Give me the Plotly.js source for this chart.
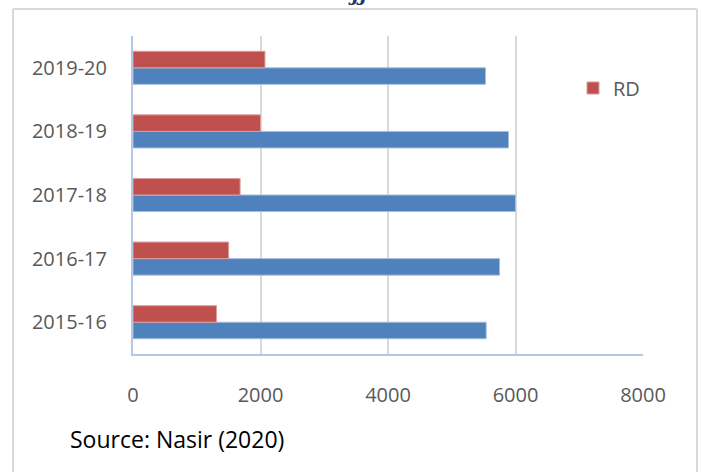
<!DOCTYPE html>
<html>
<head>
<meta charset="utf-8">
<script src="https://cdn.plot.ly/plotly-3.0.1.min.js"></script>
<style>html,body{margin:0;padding:0;background:#fff;}#chart{width:702px;height:472px;}</style>
</head>
<body>
<div id="chart"></div>
<script>
var categories = ["2015-16", "2016-17", "2017-18", "2018-19", "2019-20"];
var seriesBlue = [5540, 5750, 6000, 5890, 5530];
var seriesRD = [1310, 1500, 1680, 2000, 2070];
var xTicks = [0, 2000, 4000, 6000, 8000];
var sourceText = "Source: Nasir (2020)";

var W = 702, H = 472;
var L = 133, R = 59, T = 36, B = 118;
var pw = W - L - R, ph = H - T - B;
function px(x){ return (x - L) / pw; }
function py(y){ return (H - B - y) / ph; }

var traces = [
  {type:'bar', orientation:'h', y:categories, x:seriesBlue, name:'Series 1', showlegend:false,
   marker:{color:'#4f81bd', line:{color:'#a7bfde', width:1}}},
  {type:'bar', orientation:'h', y:categories, x:seriesRD, name:'RD',
   marker:{color:'#c0504d', line:{color:'#dc9e9c', width:1}}}
];

var frame = '#d9d9d9';
var layout = {
  width:W, height:H,
  margin:{l:L, r:R, t:T, b:B, pad:0},
  paper_bgcolor:'#fff', plot_bgcolor:'#fff',
  barmode:'group', bargap:0.48, bargroupgap:0,
  font:{family:'Open Sans, sans-serif', color:'#595959', size:20},
  xaxis:{range:[0,8000], tickvals:xTicks, ticktext:xTicks.map(String),
         showgrid:true, gridcolor:'#d9d9d9', gridwidth:2, zeroline:false,
         showline:true, linecolor:'#b4c7e7', linewidth:2,
         ticks:'', ticklabelstandoff:22, tickfont:{size:20, color:'#595959'}},
  yaxis:{type:'category', categoryorder:'array', categoryarray:categories,
         showgrid:false, zeroline:false, showline:true, linecolor:'#b4c7e7', linewidth:2,
         ticks:'', ticklabelstandoff:20, tickfont:{size:20, color:'#595959'}},
  showlegend:true,
  legend:{x:px(573), y:py(88), xanchor:'left', yanchor:'middle',
          bgcolor:'rgba(0,0,0,0)', font:{size:20, color:'#595959'},
          itemwidth:30, tracegroupgap:0},
  shapes:[
    {type:'line', xref:'paper', yref:'paper', x0:px(13), x1:px(697), y0:py(9), y1:py(9), line:{color:frame, width:2}},
    {type:'line', xref:'paper', yref:'paper', x0:px(13), x1:px(13), y0:py(9), y1:py(480), line:{color:frame, width:2}},
    {type:'line', xref:'paper', yref:'paper', x0:px(697), x1:px(697), y0:py(9), y1:py(480), line:{color:frame, width:2}}
  ],
  annotations:[
    {xref:'paper', yref:'paper', x:px(68), y:py(439), xanchor:'left', yanchor:'middle',
     text:sourceText, showarrow:false, font:{size:23, color:'#000000', family:'Open Sans, sans-serif'}},
    {xref:'paper', yref:'paper', x:px(360), y:py(-6), xanchor:'center', yanchor:'middle',
     text:'<b><i>ƒƒ</i></b>', showarrow:false, font:{size:20, color:'#1f3864', family:'DejaVu Serif, serif'}}
  ]
};

Plotly.newPlot('chart', traces, layout, {displayModeBar:false, staticPlot:true});
</script>
</body>
</html>
